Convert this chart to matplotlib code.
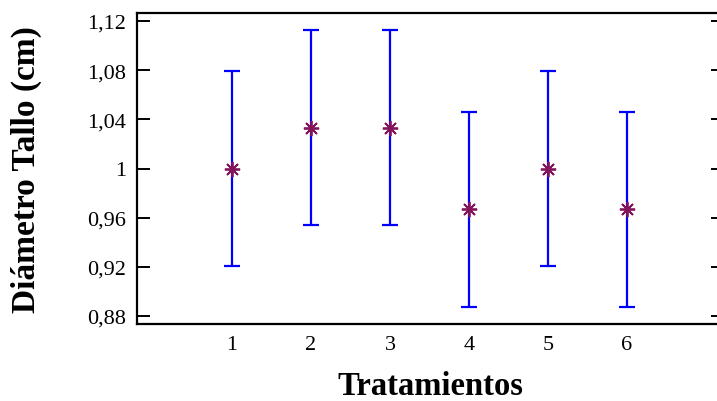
import matplotlib
matplotlib.use("Agg")
import matplotlib.pyplot as plt

tratamientos = [1, 2, 3, 4, 5, 6]
medias = [1.0, 1.0333, 1.0333, 0.9667, 1.0, 0.9667]
errores = [0.079, 0.079, 0.079, 0.079, 0.079, 0.079]
y_ticks = [0.88, 0.92, 0.96, 1.0, 1.04, 1.08, 1.12]
y_labels = ["0,88", "0,92", "0,96", "1", "1,04", "1,08", "1,12"]

plt.rcParams['font.family'] = ['Liberation Serif', 'DejaVu Serif']

fig = plt.figure(figsize=(7.17, 4.02), dpi=100)
ax = fig.add_axes([137 / 717, 1 - 325 / 402, (723 - 137) / 717, (325 - 14) / 402])

ax.errorbar(tratamientos, medias, yerr=errores, fmt='none', ecolor='#0000ff',
            elinewidth=1.6, capsize=6, capthick=1.6, zorder=2)
ax.plot(tratamientos, medias, linestyle='none', marker=(8, 2, 0), markersize=11,
        color='#84145a', markeredgewidth=1.3, zorder=3)

ax.set_xlim(1 - 95 / 79, 1 + (723 - 232) / 79)
ax.set_ylim(0.8735, 1.1265)
ax.set_xticks(tratamientos)
ax.set_yticks(y_ticks)
ax.set_yticklabels(y_labels)

ax.spines['right'].set_visible(False)
ax.spines['left'].set_linewidth(1.6)
ax.spines['bottom'].set_linewidth(1.6)
ax.spines['top'].set_linewidth(1.6)
ax.tick_params(axis='y', direction='in', length=9, width=1.4, left=True, right=True,
               labelsize=16, pad=8)
ax.tick_params(axis='x', length=0, labelsize=16, pad=8)

ax.set_xlabel("Tratamientos", fontsize=23.5, fontweight='bold')
ax.set_ylabel("Diámetro Tallo (cm)", fontsize=24, fontweight='bold')
ax.xaxis.set_label_coords(0.5, -0.147)
ax.yaxis.set_label_coords(-0.162, 0.5)

fig.savefig("out.png", dpi=100)
